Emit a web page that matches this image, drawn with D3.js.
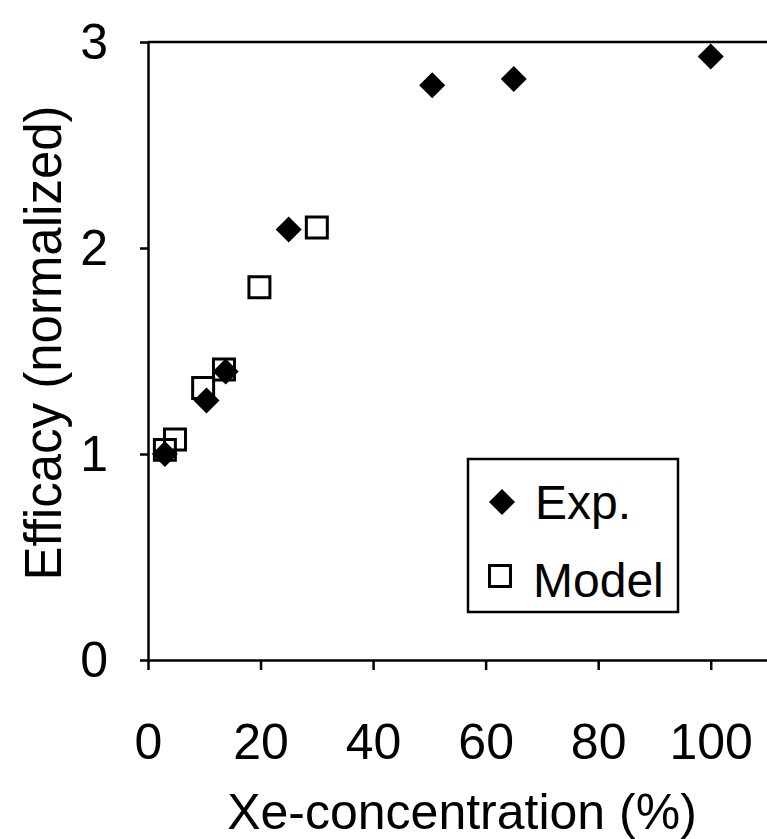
<!DOCTYPE html>
<html>
<head>
<meta charset="utf-8">
<script src="https://cdn.jsdelivr.net/npm/d3@7"></script>
<style>
  body { margin: 0; background: #fff; }
  text { font-family: Arial, "Liberation Sans", sans-serif; fill: #000; }
</style>
</head>
<body>
<div id="chart"></div>
<script>
// data
const expX = [3, 10.4, 13.8, 25, 50.5, 65, 100];
const expY = [1.0, 1.26, 1.4, 2.09, 2.79, 2.82, 2.93];
const modelX = [3, 4.8, 9.8, 13.5, 19.8, 30];
const modelY = [1.02, 1.07, 1.32, 1.41, 1.81, 2.1];
const xTicks = [0, 20, 40, 60, 80, 100];
const yTicks = [0, 1, 2, 3];

const width = 767, height = 839;
const margin = {top: 42, right: 0, bottom: 179, left: 148};

const svg = d3.select("#chart")
    .append("svg")
    .attr("width", width)
    .attr("height", height);

const xScale = d3.scaleLinear().domain([0, 110]).range([margin.left, width - margin.right]);
const yScale = d3.scaleLinear().domain([0, 3]).range([height - margin.bottom, margin.top]);

const xAxis = d3.axisBottom(xScale).tickValues(xTicks).tickFormat(d3.format("d"))
    .tickSize(10).tickPadding(53).tickSizeOuter(0);
const yAxis = d3.axisLeft(yScale).tickValues(yTicks).tickFormat(d3.format("d"))
    .tickSize(8).tickPadding(32).tickSizeOuter(0);

const gx = svg.append("g")
    .attr("transform", `translate(0, ${yScale(0)})`)
    .call(xAxis);
const gy = svg.append("g")
    .attr("transform", `translate(${xScale(0)}, 0)`)
    .call(yAxis);

[gx, gy].forEach(g => {
    g.select(".domain").attr("stroke", "#000").attr("stroke-width", 2.5);
    g.selectAll(".tick line").attr("stroke", "#000").attr("stroke-width", 2.5);
    g.selectAll(".tick text")
        .style("font-size", "50px")
        .style("font-family", "Arial, 'Liberation Sans', sans-serif")
        .attr("fill", "#000");
});

// top border of the plot box
svg.append("line")
    .attr("x1", xScale(0)).attr("x2", width)
    .attr("y1", yScale(3)).attr("y2", yScale(3))
    .attr("stroke", "#000").attr("stroke-width", 2.5);

// axis titles
svg.append("text")
    .attr("x", 462)
    .attr("y", 829)
    .attr("text-anchor", "middle")
    .style("font-size", "50px")
    .text("Xe-concentration (%)");

svg.append("text")
    .attr("transform", "translate(61, 343) rotate(-90)")
    .attr("text-anchor", "middle")
    .style("font-size", "51px")
    .text("Efficacy (normalized)");

const diamond = d3.symbol().type(d3.symbolSquare).size(338);
const square = d3.symbol().type(d3.symbolSquare).size(440);

const modelData = modelX.map((x, i) => ({x, y: modelY[i]}));
const expData = expX.map((x, i) => ({x, y: expY[i]}));

// model: open squares
svg.append("g")
    .selectAll("path")
    .data(modelData)
    .enter()
    .append("path")
    .attr("d", square)
    .attr("transform", d => `translate(${xScale(d.x)}, ${yScale(d.y)})`)
    .attr("fill", "none")
    .attr("stroke", "#000")
    .attr("stroke-width", 3);

// experiment: filled diamonds on top
svg.append("g")
    .selectAll("path")
    .data(expData)
    .enter()
    .append("path")
    .attr("d", diamond)
    .attr("transform", d => `translate(${xScale(d.x)}, ${yScale(d.y)}) rotate(45)`)
    .attr("fill", "#000");

// legend
const legend = svg.append("g");
legend.append("rect")
    .attr("x", 468).attr("y", 459)
    .attr("width", 210).attr("height", 153)
    .attr("fill", "#fff")
    .attr("stroke", "#000").attr("stroke-width", 2.5);

legend.append("path")
    .attr("d", diamond)
    .attr("transform", "translate(502, 502) rotate(45)")
    .attr("fill", "#000");
legend.append("text")
    .attr("x", 535).attr("y", 519)
    .style("font-size", "48px")
    .text("Exp.");

legend.append("path")
    .attr("d", square)
    .attr("transform", "translate(500, 576)")
    .attr("fill", "none")
    .attr("stroke", "#000").attr("stroke-width", 3);
legend.append("text")
    .attr("x", 533).attr("y", 597)
    .style("font-size", "48px")
    .text("Model");
</script>
</body>
</html>
